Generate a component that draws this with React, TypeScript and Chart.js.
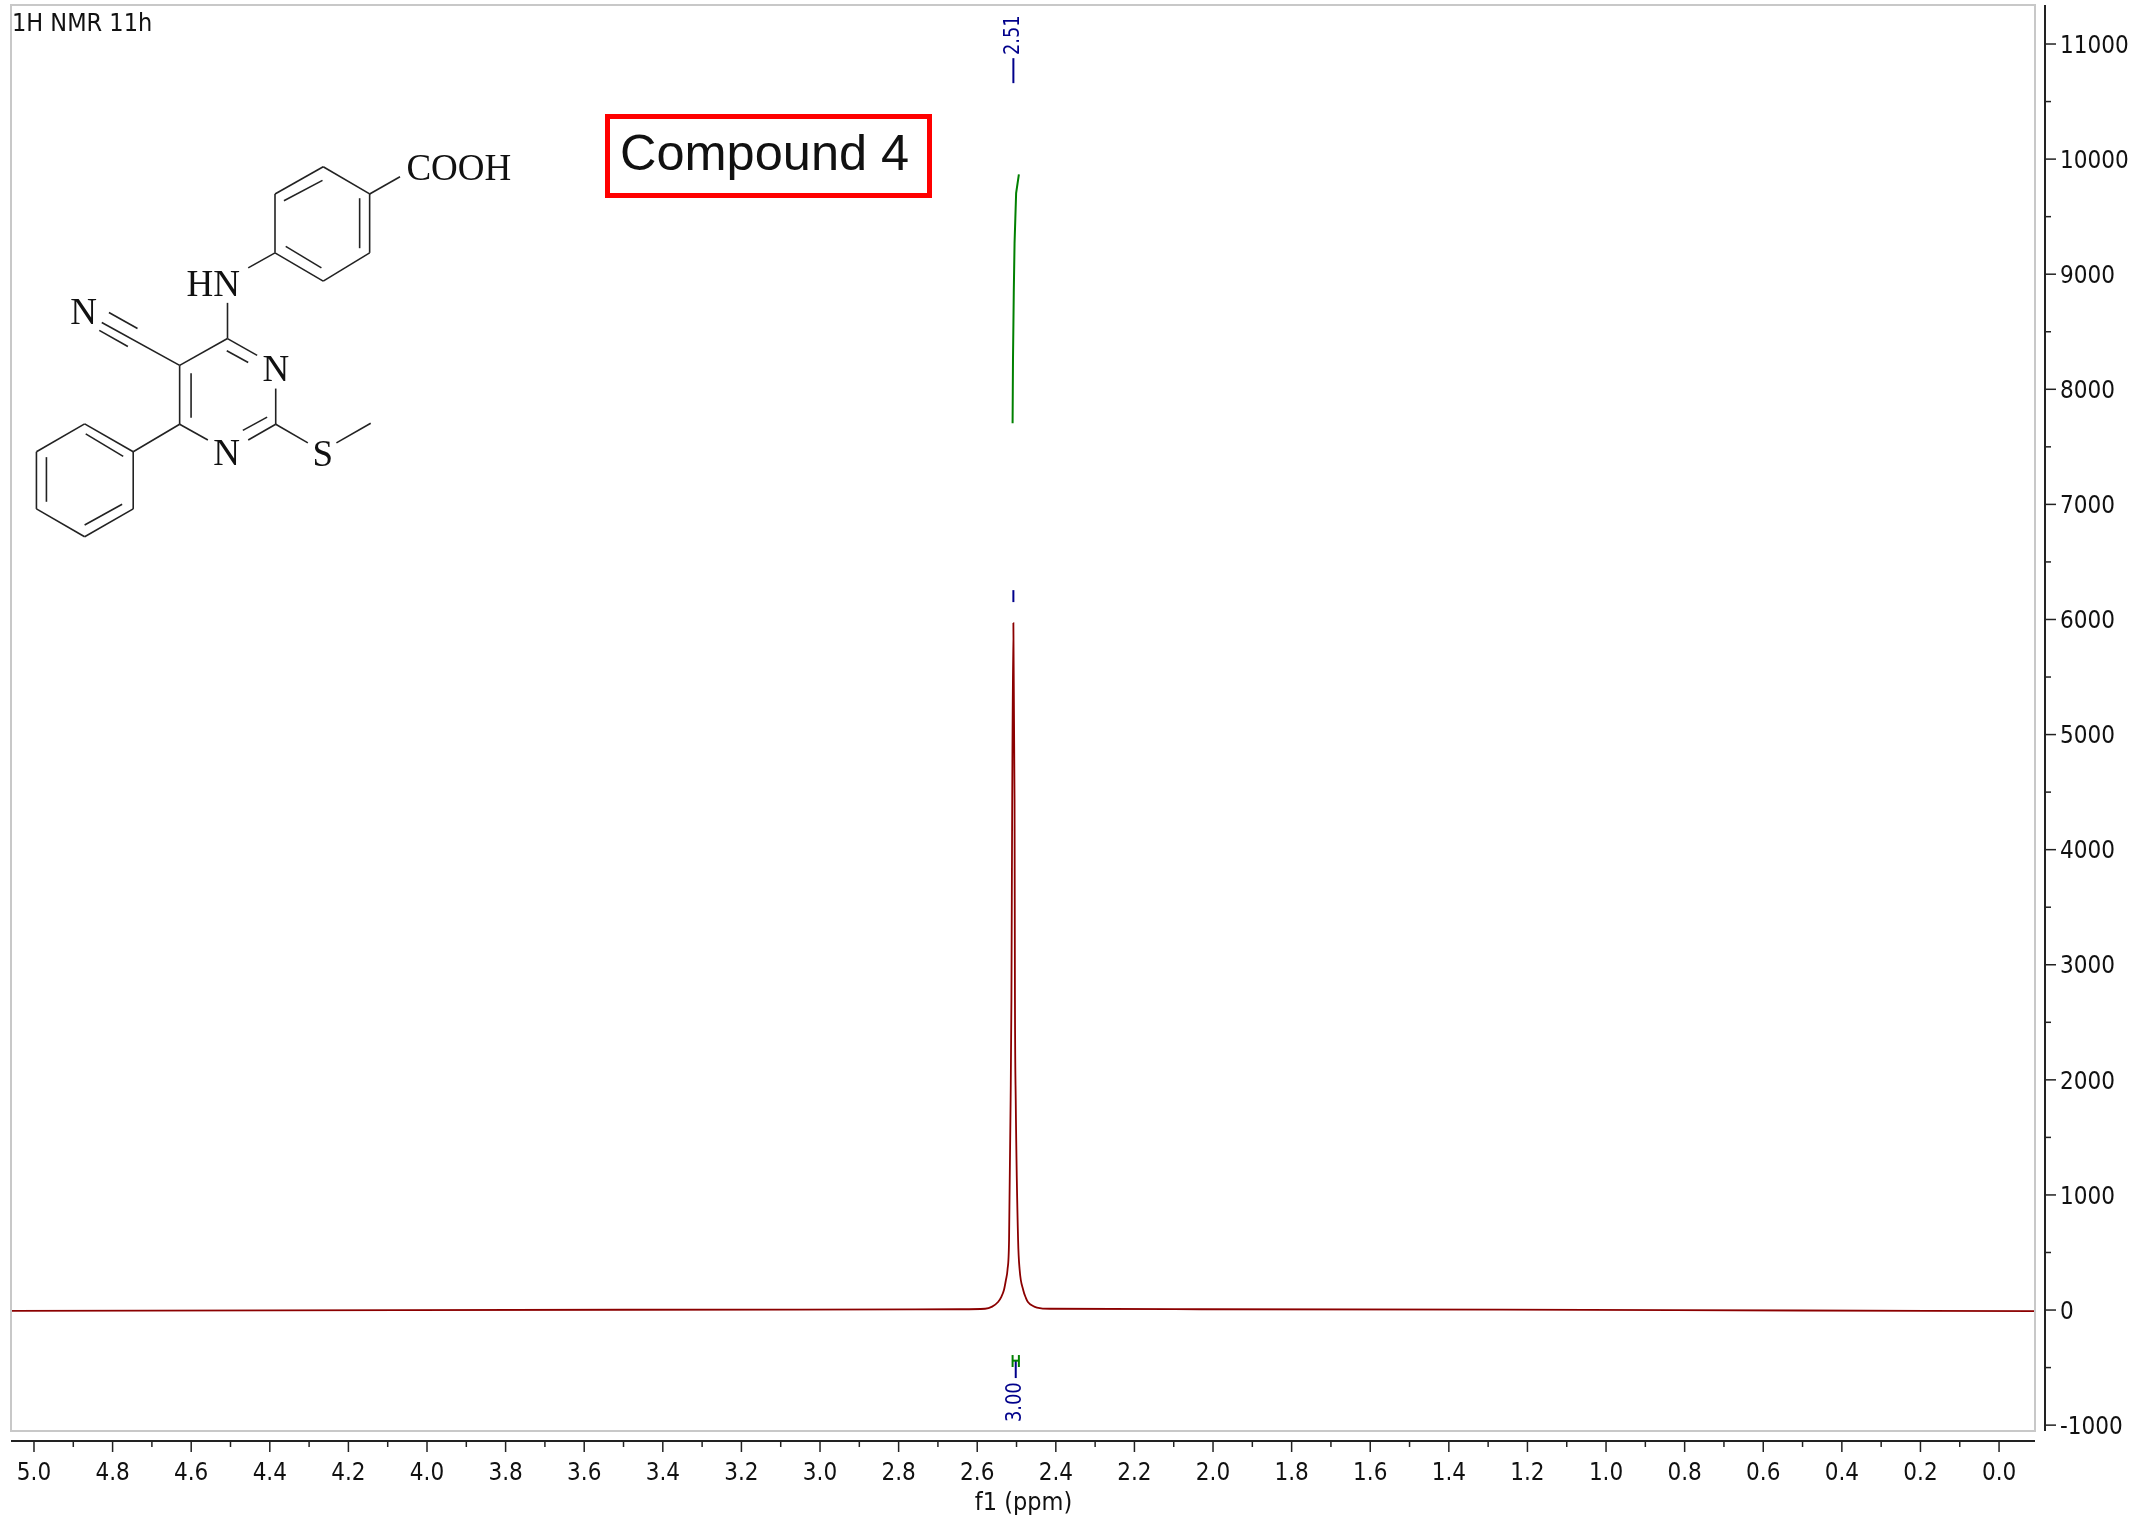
import React, { useEffect, useRef } from "react";
import { Chart, registerables } from "chart.js";

Chart.register(...registerables);

// ---- data ----
const spectrumPpm = [5.0585, 4.069, 3.051, 2.644, 2.58, 2.562, 2.547, 2.539, 2.532, 2.527, 2.523, 2.519, 2.515, 2.513, 2.511, 2.508, 2.505, 2.504, 2.502, 2.496, 2.492, 2.483, 2.476, 2.471, 2.458, 2.448, 2.415, 2.033, 1.27, 0.506, -0.094];
const spectrumIntensity = [-8, 0, 4, 7, 11, 30, 70, 113, 174, 261, 348, 608, 1825, 2693, 4431, 5969, 4431, 2693, 1825, 608, 348, 174, 104, 70, 35, 22, 11, 7, 3, -4, -9];
const integralPpm = [2.494, 2.501, 2.505, 2.507, 2.509, 2.51];
const integralIntensity = [9867, 9705, 9270, 8836, 8254, 7706];
const peakPpm = 2.508;
const peakLabelTop = [10877, 10660];
const peakLabelLow = [6255, 6151];
const bracketPpm = [2.51, 2.494];
const bracketIntensity = [-391, -440, -495];
const integralLabelPpm = 2.502;
const integralLabelLine = [-443, -591];
const yTickValues = [-1000, -500, 0, 500, 1000, 1500, 2000, 2500, 3000, 3500, 4000, 4500, 5000, 5500, 6000, 6500, 7000, 7500, 8000, 8500, 9000, 9500, 10000, 10500, 11000];
const peakLabel = "2.51";
const integralLabel = "3.00";
const title = "1H NMR 11h";
const compound = "Compound 4";
const xAxisTitle = "f1 (ppm)";

const XY = (xs: number[], ys: number[]) => xs.map((x, i) => ({ x, y: ys[i] }));
const NAVY = "#00008b";
const GREEN = "#008000";
const RED = "#8b0000";
const UI = '"DejaVu Sans Condensed", "DejaVu Sans", sans-serif';

function drawMolecule(c: CanvasRenderingContext2D) {
  // bonds as measured on a crop enlarged 2.8x
  const k = 2.8;
  const bonds = [
    [905,467,1035,543],[1035,543,1035,708],[1035,708,905,787],[905,787,770,708],[770,708,770,543],[770,543,905,467],
    [795,562,903,505],[1007,555,1007,695],[800,690,900,750],[1035,543,1120,495],[695,750,770,708],[637,848,637,948],
    [637,948,720,995],[635,982,695,1015],[772,1088,772,1188],[772,1188,695,1232],[748,1168,680,1205],[503,1188,582,1232],
    [503,1188,503,1023],[535,1045,535,1170],[503,1023,637,948],[503,1023,285,903],[305,875,385,920],[278,925,358,970],
    [772,1188,862,1240],[942,1240,1038,1185],[503,1188,373,1265],[373,1265,373,1425],[373,1425,237,1503],[237,1503,102,1425],
    [102,1425,102,1265],[102,1265,237,1187],[237,1187,373,1265],[240,1215,345,1278],[130,1280,130,1405],[237,1470,342,1412],
  ];
  c.save();
  c.strokeStyle = "#222";
  c.lineWidth = 1.6;
  bonds.forEach(([a, b, d, e]) => {
    c.beginPath();
    c.moveTo(a / k, b / k);
    c.lineTo(d / k, e / k);
    c.stroke();
  });
  c.fillStyle = "#111";
  c.font = '37px "Liberation Serif", serif';
  c.textBaseline = "alphabetic";
  c.textAlign = "left";
  const labels: [string, number, number][] = [
    ["COOH", 1138, 503], ["N", 197, 907], ["N", 735, 1068], ["N", 597, 1303], ["S", 875, 1305],
  ];
  labels.forEach(([t, x, y]) => c.fillText(t, x / k, y / k));
  c.fillText("H", 522 / k, 828 / k);
  c.fillText("N", 597 / k, 828 / k);
  c.restore();
}

const decorations = {
  id: "decorations",
  afterDraw(chart: any) {
    const c: CanvasRenderingContext2D = chart.ctx;
    const xs = chart.scales.x;
    const ys = chart.scales.y;
    const area = chart.chartArea;
    c.save();
    // frame
    c.strokeStyle = "#c8c8c8";
    c.lineWidth = 2;
    c.strokeRect(area.left, area.top, area.right - area.left - 1, area.bottom - area.top);

    // offset axes, from the scales' own ticks
    const xLine = area.bottom + 10;
    const yLine = area.right + 9;
    c.strokeStyle = "#222";
    c.lineWidth = 2;
    c.beginPath();
    c.moveTo(area.left, xLine);
    c.lineTo(area.right - 1, xLine);
    c.moveTo(yLine, area.top);
    c.lineTo(yLine, area.bottom);
    c.stroke();
    c.lineWidth = 1.5;
    xs.ticks.forEach((t: any) => {
      const major = Math.round(t.value * 10) % 2 === 0;
      const p = xs.getPixelForValue(t.value);
      c.beginPath();
      c.moveTo(p, xLine);
      c.lineTo(p, xLine + (major ? 11 : 6));
      c.stroke();
    });
    ys.ticks.forEach((t: any) => {
      const major = t.value % 1000 === 0;
      const p = ys.getPixelForValue(t.value);
      c.beginPath();
      c.moveTo(yLine, p);
      c.lineTo(yLine + (major ? 11 : 6), p);
      c.stroke();
    });

    // title
    c.fillStyle = "#111";
    c.font = `25px ${UI}`;
    c.textAlign = "left";
    c.textBaseline = "alphabetic";
    c.fillText(title, 12, 31);

    // x axis title
    c.textAlign = "center";
    c.fillText(xAxisTitle, xs.getPixelForValue(2.5) + 7, 1510);

    // rotated peak and integral labels
    c.fillStyle = NAVY;
    c.font = `22px ${UI}`;
    c.textBaseline = "middle";
    const rotated = (text: string, x: number, y: number) => {
      c.save();
      c.translate(x, y);
      c.rotate(-Math.PI / 2);
      c.scale(0.9, 1);
      c.fillText(text, 0, 0);
      c.restore();
    };
    rotated(peakLabel, xs.getPixelForValue(peakPpm), ys.getPixelForValue(peakLabelTop[0] + 200));
    rotated(integralLabel, xs.getPixelForValue(integralLabelPpm) - 0.5, ys.getPixelForValue(integralLabelLine[1] - 210));

    // compound box
    c.strokeStyle = "#ff0000";
    c.lineWidth = 5;
    c.strokeRect(607.5, 116.5, 322, 79);
    c.fillStyle = "#111";
    c.font = '50.5px "Liberation Sans", Arial, sans-serif';
    c.textAlign = "left";
    c.textBaseline = "alphabetic";
    c.fillText(compound, 620, 170);
    c.restore();

    drawMolecule(c);
  },
};

const noPadding = (s: any) => {
  s.paddingLeft = 0;
  s.paddingRight = 0;
  s.paddingTop = 0;
  s.paddingBottom = 0;
};

export default function App() {
  const ref = useRef<HTMLCanvasElement>(null);
  useEffect(() => {
    const line = (data: any[], color: string, width: number, extra: any = {}) => ({
      data,
      borderColor: color,
      borderWidth: width,
      showLine: true,
      pointRadius: 0,
      tension: 0.0001,
      fill: false,
      ...extra,
    });
    const chart = new Chart(ref.current as HTMLCanvasElement, {
      type: "scatter",
      data: {
        datasets: [
          line(XY(spectrumPpm, spectrumIntensity), RED, 1.8, { cubicInterpolationMode: "monotone" }),
          line(XY(integralPpm, integralIntensity), GREEN, 2),
          line(XY([peakPpm, peakPpm], peakLabelTop), NAVY, 2),
          line(XY([peakPpm, peakPpm], peakLabelLow), NAVY, 2),
          line(XY([bracketPpm[0], bracketPpm[0]], [bracketIntensity[0], bracketIntensity[2]]), GREEN, 2),
          line(XY([bracketPpm[1], bracketPpm[1]], [bracketIntensity[0], bracketIntensity[2]]), GREEN, 2),
          line(XY(bracketPpm, [bracketIntensity[1], bracketIntensity[1]]), GREEN, 2),
          line(XY([integralLabelPpm, integralLabelPpm], integralLabelLine), NAVY, 2),
        ],
      } as any,
      options: {
        responsive: false,
        animation: false,
        layout: { padding: { left: 11, top: 5, right: 0, bottom: 0 } },
        plugins: { legend: { display: false }, tooltip: { enabled: false }, title: { display: false } },
        scales: {
          x: {
            type: "linear",
            position: "bottom",
            reverse: true,
            min: -0.094,
            max: 5.0585,
            grid: { display: false },
            border: { display: false },
            afterFit: (s: any) => { s.height = 89; noPadding(s); },
            ticks: {
              stepSize: 0.1,
              includeBounds: false,
              autoSkip: false,
              maxRotation: 0,
              padding: 20,
              color: "#111",
              font: { family: UI, size: 24 },
              callback: (v: any) => (Math.round(v * 10) % 2 === 0 ? Number(v).toFixed(1) : ""),
            },
          },
          y: {
            type: "linear",
            position: "right",
            min: -1051,
            max: 11339,
            grid: { display: false },
            border: { display: false },
            afterBuildTicks: (s: any) => { s.ticks = yTickValues.map((value) => ({ value })); },
            afterFit: (s: any) => { s.width = 96; noPadding(s); },
            ticks: {
              autoSkip: false,
              padding: 16,
              labelOffset: 2.5,
              color: "#111",
              font: { family: UI, size: 24 },
              callback: (v: any) => (v % 1000 === 0 ? String(v) : ""),
            },
          },
        },
      } as any,
      plugins: [decorations],
    });
    return () => chart.destroy();
  }, []);
  return (
    <canvas
      ref={ref}
      width={2132}
      height={1520}
      style={{ position: "absolute", left: 0, top: 0, display: "block", background: "#fff" }}
    />
  );
}
